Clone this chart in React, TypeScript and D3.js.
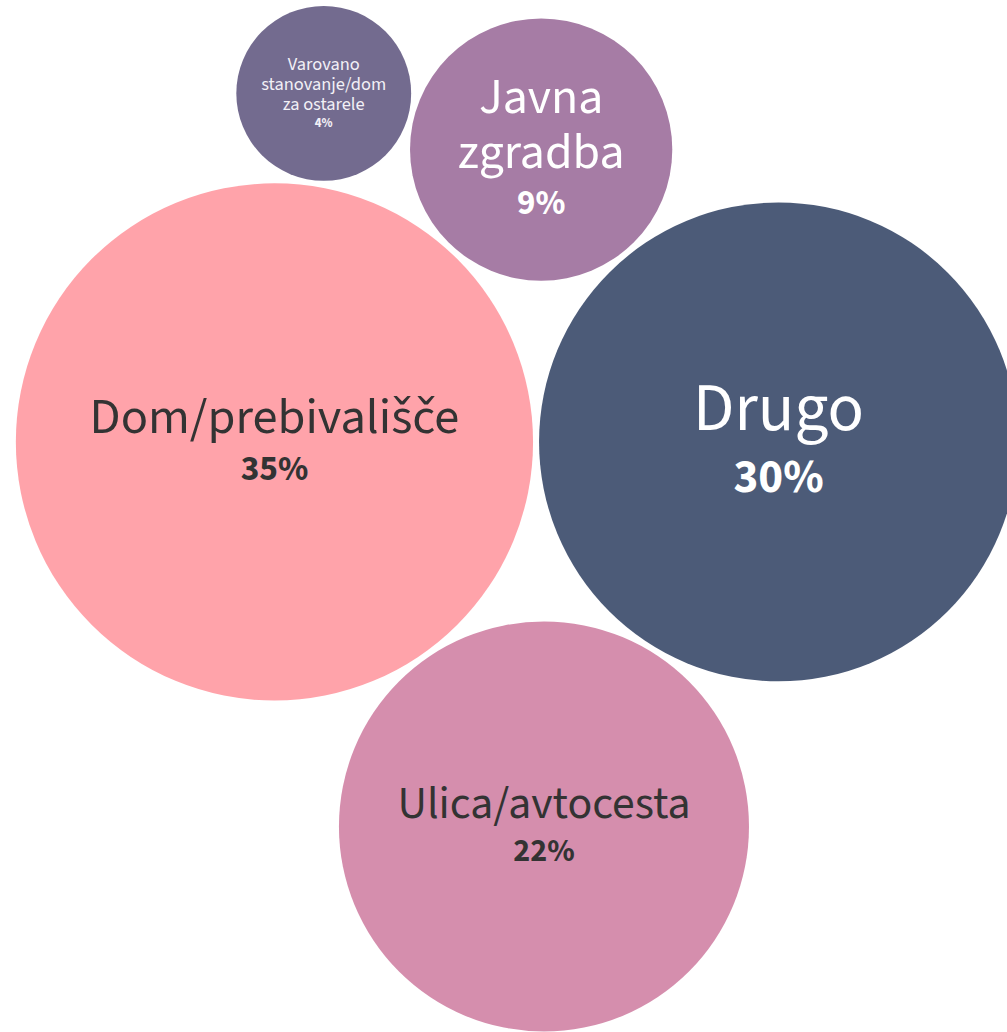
import React, { useMemo } from "react";
import * as d3 from "d3";

// ---- data ----
const categories = [
  "Dom/prebivališče",
  "Drugo",
  "Ulica/avtocesta",
  "Javna zgradba",
  "Varovano stanovanje/dom za ostarele",
];
const values = [35, 30, 22, 9, 4];
const valueLabels = ["35%", "30%", "22%", "9%", "4%"];
const colors = ["#FFA3AA", "#4C5B78", "#D58EAD", "#A67CA5", "#736B8F"];
const textColors = ["#333333", "#FFFFFF", "#333333", "#FFFFFF", "#F2F0F6"];

// ---- layout / style ----
const W = 1007;
const H = 1032;
const PAD = 3;
const CX = 493;
const CY = 504;
const FONT = "'Source Sans Pro', 'Source Sans 3', Lato, 'Noto Sans', sans-serif";
const CAP_K = 4.35; // cap font size = CAP_K * sqrt(r)
const FIT_W = 0.715; // text block width as share of diameter
const LINE_H = 1.1;
const PCT_RATIO = 0.7;
const PCT_GAP = 0.93;
const CAP_H = 0.71;

let ctx: CanvasRenderingContext2D | null = null;
function measure(text: string, weight = 400): number {
  if (!ctx) ctx = document.createElement("canvas").getContext("2d");
  if (!ctx) return text.length * 0.5;
  ctx.font = `${weight} 100px ${FONT}`;
  return ctx.measureText(text).width / 100;
}

function splits(words: string[]): string[][] {
  if (words.length <= 1) return [words.slice()];
  const out: string[][] = [];
  const n = words.length - 1;
  for (let mask = 0; mask < 1 << n; mask++) {
    const lines: string[] = [];
    let cur = words[0];
    for (let i = 0; i < n; i++) {
      if (mask & (1 << i)) {
        lines.push(cur);
        cur = words[i + 1];
      } else cur += " " + words[i + 1];
    }
    lines.push(cur);
    out.push(lines);
  }
  return out;
}

function fitLabel(label: string, r: number) {
  const words = label.split(" ");
  let best = { lines: [label], size: 0 };
  for (const lines of splits(words)) {
    const maxW = d3.max(lines, (l) => measure(l)) || 1;
    const byWidth = (FIT_W * 2 * r) / maxW;
    const byHeight = (1.4 * r) / (lines.length * LINE_H + 0.8);
    const size = Math.min(CAP_K * Math.sqrt(r), byWidth, byHeight);
    if (size > best.size + 0.01 || (Math.abs(size - best.size) <= 0.01 && lines.length < best.lines.length)) {
      best = { lines, size };
    }
  }
  return best;
}

export default function App() {
  const nodes = useMemo(() => {
    const rScale = d3.scaleSqrt().domain([0, d3.max(values) as number]).range([0, 258.6]);
    const circles = values.map((v, i) => ({
      i,
      r: rScale(v) + PAD,
      rr: rScale(v),
      x: 0,
      y: 0,
    }));
    d3.packSiblings(circles);
    const enc = d3.packEnclose(circles);
    const dx = CX - enc.x;
    const dy = CY - enc.y;
    return circles.map((c) => {
      const fit = fitLabel(categories[c.i], c.rr);
      return { ...c, cx: c.x + dx, cy: c.y + dy, fit };
    });
  }, []);

  return (
    <svg
      width={W}
      height={H}
      viewBox={`0 0 ${W} ${H}`}
      style={{ position: "absolute", left: 0, top: 0, background: "#fff" }}
      fontFamily={FONT}
    >
      {nodes.map((n) => {
        const L = n.fit.size;
        const nl = n.fit.lines.length;
        const blockH = CAP_H * L + (nl - 1) * LINE_H * L + PCT_GAP * L;
        const firstBase = n.cy - 0.07 * L - blockH / 2 + CAP_H * L;
        const pctBase = firstBase + (nl - 1) * LINE_H * L + PCT_GAP * L;
        return (
          <g key={n.i}>
            <circle cx={n.cx} cy={n.cy} r={n.rr} fill={colors[n.i]} />
            <text textAnchor="middle" fill={textColors[n.i]} fontSize={L} fontWeight={400}>
              {n.fit.lines.map((line, j) => (
                <tspan key={j} x={n.cx} y={firstBase + j * LINE_H * L}>
                  {line}
                </tspan>
              ))}
            </text>
            <text
              x={n.cx}
              y={pctBase}
              textAnchor="middle"
              fill={textColors[n.i]}
              fontSize={L * PCT_RATIO}
              fontWeight={700}
            >
              {valueLabels[n.i]}
            </text>
          </g>
        );
      })}
    </svg>
  );
}
